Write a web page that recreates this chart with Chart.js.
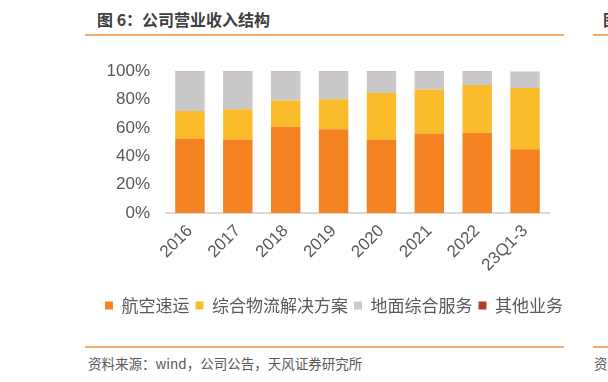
<!DOCTYPE html>
<html>
<head>
<meta charset="utf-8">
<script src="https://cdn.jsdelivr.net/npm/chart.js@4.4.0/dist/chart.umd.min.js"></script>
<style>
  html, body { margin: 0; padding: 0; background: #fff; }
  body { width: 608px; height: 382px; position: relative; overflow: hidden; }
  .title { position: absolute; font-family: "Noto Sans CJK SC", sans-serif; font-weight: bold; font-size: 16px; line-height: 20px; color: #404040; white-space: nowrap; }
  .rule { position: absolute; height: 2px; background: #F6A96C; }
  .src { position: absolute; font-family: "Noto Sans CJK SC", sans-serif; font-size: 13.5px; line-height: 16px; color: #595959; white-space: nowrap; }
  #clip { position: absolute; left: 85px; top: 45px; width: 480px; height: 290px; overflow: hidden; }
  #box { position: absolute; left: 0; top: 0; width: 498px; height: 290px; }
</style>
</head>
<body>
<div class="title" style="left:97px; top:9px;">图 6：公司营业收入结构</div>
<div class="rule" style="left:85px; top:34px; width:479px;"></div>
<div class="title" style="left:603px; top:9px;">图</div>
<div class="rule" style="left:593px; top:34px; width:15px;"></div>

<div id="clip"><div id="box"><canvas id="c"></canvas></div></div>

<div class="rule" style="left:85px; top:346px; width:479px;"></div>
<div class="src" style="left:88px; top:355px;">资料来源：wind，公司公告，天风证券研究所</div>
<div class="rule" style="left:593px; top:346px; width:15px;"></div>
<div class="src" style="left:594px; top:355px;">资</div>

<script>
const categories = ["2016", "2017", "2018", "2019", "2020", "2021", "2022", "23Q1-3"];
const airExpress = [52.6, 51.9, 60.9, 59.1, 51.9, 56.1, 56.6, 45.0];
const logisticsSolutions = [19.3, 21.2, 18.4, 21.1, 32.7, 31.0, 33.7, 43.1];
const groundServices = [27.7, 26.6, 20.4, 19.5, 15.1, 12.6, 9.4, 11.9];
const otherBusiness = [0.4, 0.3, 0.3, 0.3, 0.3, 0.3, 0.3, 0.0];
const seriesNames = ["航空速运", "综合物流解决方案", "地面综合服务", "其他业务"];
const yTicks = [0, 20, 40, 60, 80, 100];

const colors = ["#F58220", "#FBBC2C", "#C9C9C9", "#B53A2B"];
const seriesData = [airExpress, logisticsSolutions, groundServices, otherBusiness];

new Chart(document.getElementById("c"), {
  type: "bar",
  data: {
    labels: categories,
    datasets: seriesNames.map((name, i) => ({
      label: name,
      data: seriesData[i],
      backgroundColor: colors[i],
      borderWidth: 0,
      barPercentage: 0.615,
      categoryPercentage: 1.0,
      yAxisID: "y"
    }))
  },
  options: {
    responsive: true,
    maintainAspectRatio: false,
    animation: false,
    layout: { padding: { left: 0, right: 0, top: 11, bottom: 11 } },
    plugins: {
      tooltip: { enabled: false },
      legend: {
        position: "bottom",
        labels: {
          boxWidth: 8,
          boxHeight: 8,
          padding: 6,
          color: "#595959",
          font: { family: "'Noto Sans CJK SC', sans-serif", size: 17 }
        }
      }
    },
    scales: {
      x: {
        stacked: true,
        grid: { display: false, drawTicks: false },
        border: { display: true, color: "#D9D9D9", width: 2 },
        ticks: {
          color: "#595959",
          padding: 8,
          minRotation: 45,
          maxRotation: 45,
          font: { family: "'Liberation Sans', Arial, sans-serif", size: 17 }
        },
        afterFit: (scale) => { scale.height = 78; }
      },
      y: {
        stacked: true,
        position: "left",
        min: 0,
        max: 100,
        grid: { display: false, drawTicks: false },
        border: { display: false },
        afterBuildTicks: (scale) => { scale.ticks = yTicks.map(v => ({ value: v })); },
        afterFit: (scale) => { scale.width = 81; },
        ticks: {
          color: "#595959",
          padding: 16,
          font: { family: "'Liberation Sans', Arial, sans-serif", size: 17 },
          callback: (v) => v + "%"
        }
      },
      yRight: {
        position: "right",
        display: true,
        grid: { display: false, drawTicks: false },
        border: { display: false },
        ticks: { display: false },
        afterFit: (scale) => { scale.width = 34; }
      }
    }
  }
});
</script>
</body>
</html>
